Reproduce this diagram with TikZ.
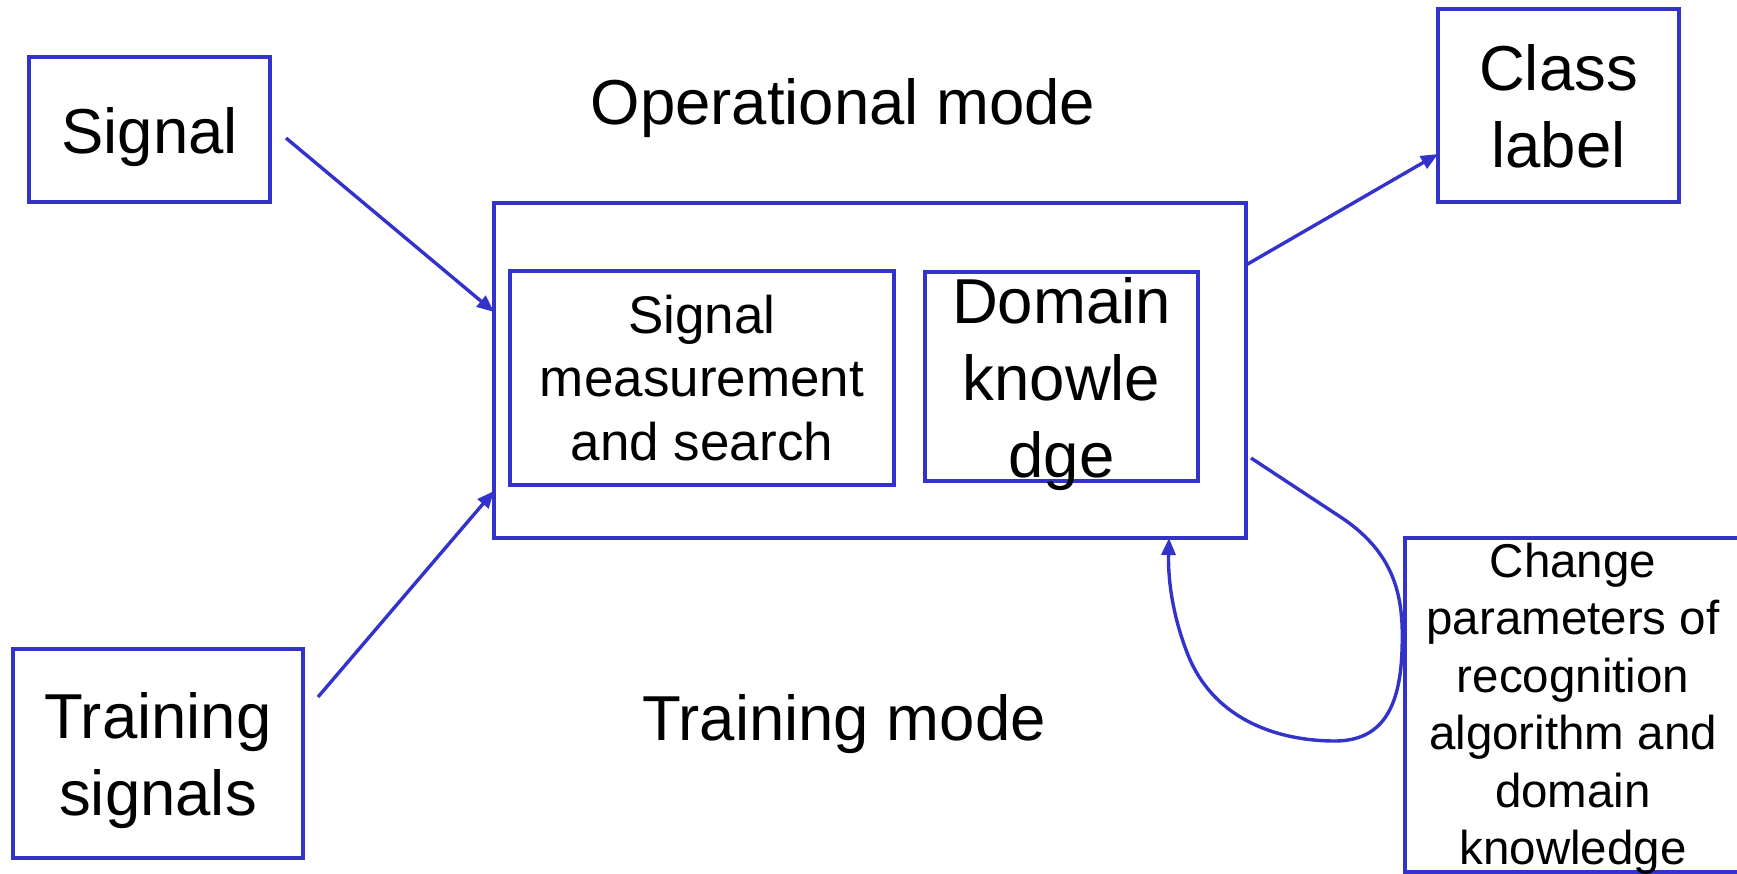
\documentclass[tikz,border=0pt]{standalone}
\usepackage{fontspec}
\setmainfont{Liberation Sans}
\usetikzlibrary{arrows.meta}
\definecolor{wireblue}{RGB}{51,51,204}
\begin{document}
\begin{tikzpicture}[x=1pt,y=-1pt,
  box/.style={draw=wireblue,line width=3.4pt,inner sep=0pt,outer sep=0pt,rectangle},
  txt/.style={inner sep=0pt,align=center,anchor=base,text=black},
  bigfont/.style={font=\fontsize{63.5}{77}\selectfont},
  midfont/.style={font=\fontsize{53}{63.5}\selectfont},
  smlfont/.style={font=\fontsize{47.5}{57.5}\selectfont},
  wire/.style={draw=wireblue,line width=3.4pt,-{Triangle[length=17pt,width=14pt]}}]
\useasboundingbox (0,0) rectangle (1737,874);

% boxes
\node[box,minimum width=241pt,minimum height=145pt] (sig) at (149.5,129.5) {};
\node[box,minimum width=241pt,minimum height=193pt] (cls) at (1558.5,105.5) {};
\node[box,minimum width=752pt,minimum height=335pt] (main) at (870,370.5) {};
\node[box,minimum width=384pt,minimum height=214pt] (meas) at (702,378) {};
\node[box,minimum width=273pt,minimum height=209pt] (dom) at (1061.5,376.5) {};
\node[box,minimum width=290pt,minimum height=209pt] (trn) at (158,753.5) {};
\node[box,minimum width=336pt,minimum height=334pt] (chg) at (1573,705) {};

% texts (base anchor sits on the last line of each block)
\node[txt,bigfont] (optext) at (843,125) {Operational mode};
\node[txt,bigfont] (trtext) at (844,740) {Training mode};
\node[txt,bigfont] (sigtext) at (149.5,154) {Signal};
\node[txt,bigfont] (clstext) at (1558.5,168) {Class\\label};
\node[txt,bigfont] (trntext) at (158,815) {Training\\signals};
\node[txt,midfont] (meastext) at (702,460) {Signal\\measurement\\and search};
\node[txt,bigfont] (domtext) at (1061.5,477) {Domain\\knowle\\dge};
\node[txt,smlfont] (chgtext) at (1573,864.5) {Change\\parameters of\\recognition\\algorithm and\\domain\\knowledge};

% connectors
\coordinate (sigout) at (286,138);
\coordinate (trnout) at (318,697);
\coordinate (mainout) at (1246,265);
\coordinate (fbstart) at (1251,458);
\coordinate (sigin) at ([yshift=-109pt]main.north west);
\coordinate (trnin) at ([yshift=-288pt]main.north west);
\coordinate (clsin) at ([yshift=-145pt]cls.north west);
\coordinate (fbend) at ([xshift=299pt]main.south);

\draw[wire] (sigout) -- (sigin);
\draw[wire] (trnout) -- (trnin);
\draw[wire] (mainout) -- (clsin);
\draw[wire] (fbstart) -- (1342,518)
  .. controls (1397,555) and (1404,600) .. (1402,650)
  .. controls (1400,715) and (1377,742) .. (1332,741)
  .. controls (1270,740) and (1212,715) .. (1188,655)
  .. controls (1171,612) and (1168,575) .. (fbend);
\end{tikzpicture}
\end{document}
